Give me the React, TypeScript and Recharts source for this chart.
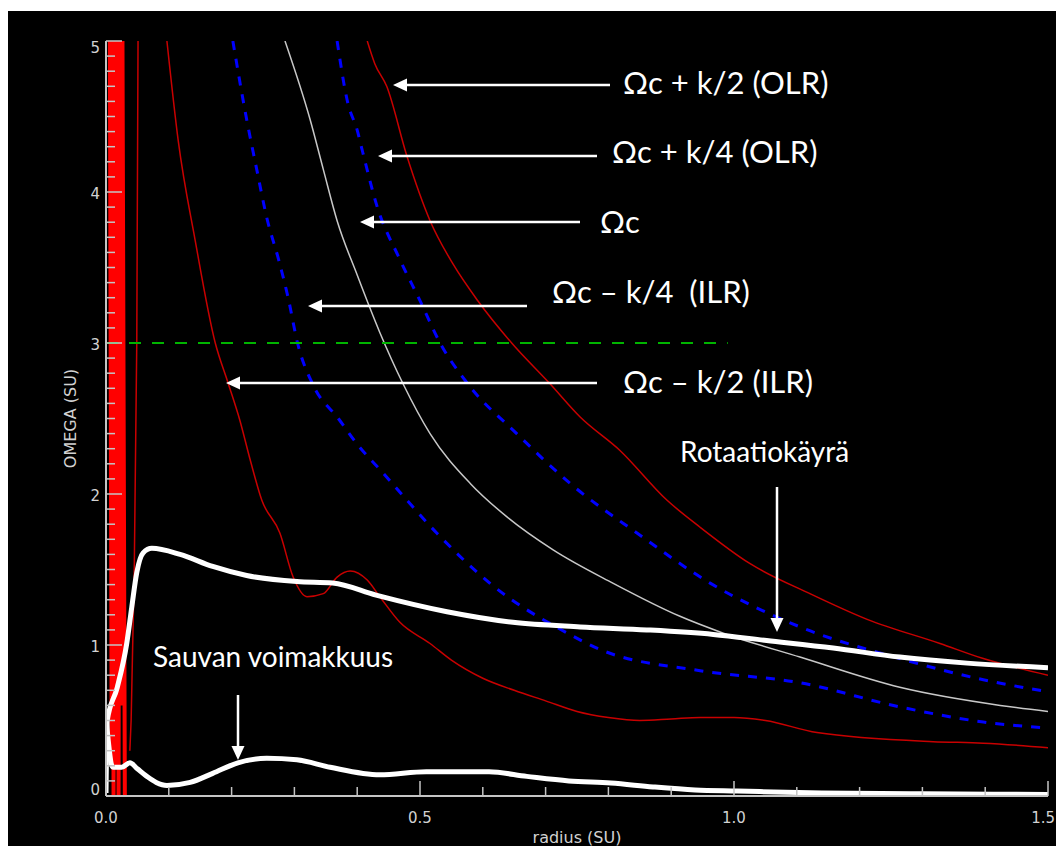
import { LineChart, Line, XAxis, YAxis } from "recharts";

// ---- data (radius SU, omega SU) ----

const OMEGA_PLUS_K2 = [
  { x: 0.416, y: 5.0 }, { x: 0.428, y: 4.85 }, { x: 0.447, y: 4.7 }, { x: 0.479, y: 4.24 },
  { x: 0.516, y: 3.81 }, { x: 0.553, y: 3.52 }, { x: 0.592, y: 3.28 }, { x: 0.646, y: 3.0 },
  { x: 0.707, y: 2.73 }, { x: 0.755, y: 2.51 }, { x: 0.818, y: 2.29 }, { x: 0.893, y: 1.96 },
  { x: 0.946, y: 1.78 }, { x: 1.025, y: 1.54 }, { x: 1.121, y: 1.34 }, { x: 1.212, y: 1.17 },
  { x: 1.328, y: 1.01 }, { x: 1.397, y: 0.91 }, { x: 1.5, y: 0.8 },
];

const OMEGA_PLUS_K4 = [
  { x: 0.368, y: 5.0 }, { x: 0.385, y: 4.59 }, { x: 0.4, y: 4.41 }, { x: 0.409, y: 4.26 },
  { x: 0.432, y: 3.9 }, { x: 0.466, y: 3.57 }, { x: 0.5, y: 3.28 }, { x: 0.532, y: 3.0 },
  { x: 0.576, y: 2.73 }, { x: 0.654, y: 2.4 }, { x: 0.739, y: 2.07 }, { x: 0.846, y: 1.74 },
  { x: 0.962, y: 1.41 }, { x: 1.105, y: 1.12 }, { x: 1.264, y: 0.91 }, { x: 1.397, y: 0.77 },
  { x: 1.5, y: 0.69 },
];

const OMEGA_C = [
  { x: 0.285, y: 5.0 }, { x: 0.325, y: 4.48 }, { x: 0.346, y: 4.15 }, { x: 0.368, y: 3.81 },
  { x: 0.4, y: 3.45 }, { x: 0.436, y: 3.07 }, { x: 0.473, y: 2.73 }, { x: 0.516, y: 2.4 },
  { x: 0.58, y: 2.07 }, { x: 0.638, y: 1.85 }, { x: 0.712, y: 1.63 }, { x: 0.807, y: 1.41 },
  { x: 0.914, y: 1.19 }, { x: 0.982, y: 1.08 }, { x: 1.105, y: 0.92 }, { x: 1.264, y: 0.72 },
  { x: 1.424, y: 0.6 }, { x: 1.5, y: 0.56 },
];

const OMEGA_MINUS_K4 = [
  { x: 0.202, y: 5.0 }, { x: 0.224, y: 4.48 }, { x: 0.24, y: 4.15 }, { x: 0.256, y: 3.83 },
  { x: 0.275, y: 3.55 }, { x: 0.29, y: 3.3 }, { x: 0.305, y: 3.0 }, { x: 0.33, y: 2.72 },
  { x: 0.37, y: 2.5 }, { x: 0.4, y: 2.33 }, { x: 0.441, y: 2.14 }, { x: 0.527, y: 1.74 },
  { x: 0.611, y: 1.41 }, { x: 0.734, y: 1.08 }, { x: 0.787, y: 0.97 }, { x: 0.946, y: 0.83 },
  { x: 1.105, y: 0.75 }, { x: 1.264, y: 0.59 }, { x: 1.397, y: 0.49 }, { x: 1.5, y: 0.45 },
];

const OMEGA_MINUS_K2 = [
  { x: 0.097, y: 5.0 }, { x: 0.115, y: 4.34 }, { x: 0.142, y: 3.68 }, { x: 0.174, y: 3.0 },
  { x: 0.194, y: 2.74 }, { x: 0.213, y: 2.49 }, { x: 0.23, y: 2.22 }, { x: 0.248, y: 1.96 },
  { x: 0.277, y: 1.74 }, { x: 0.298, y: 1.45 }, { x: 0.32, y: 1.32 }, { x: 0.346, y: 1.34 },
  { x: 0.368, y: 1.45 }, { x: 0.389, y: 1.49 }, { x: 0.416, y: 1.43 }, { x: 0.436, y: 1.32 },
  { x: 0.468, y: 1.15 }, { x: 0.516, y: 1.01 }, { x: 0.55, y: 0.9 }, { x: 0.6, y: 0.78 },
  { x: 0.65, y: 0.7 }, { x: 0.7, y: 0.63 }, { x: 0.75, y: 0.56 }, { x: 0.8, y: 0.52 },
  { x: 0.85, y: 0.5 }, { x: 0.9, y: 0.51 }, { x: 0.946, y: 0.52 }, { x: 1.0, y: 0.52 },
  { x: 1.05, y: 0.5 }, { x: 1.132, y: 0.42 }, { x: 1.317, y: 0.36 }, { x: 1.397, y: 0.35 },
  { x: 1.5, y: 0.32 },
];

// resonance curves blow up near the centre
const CORE_SPIKES = [
  { x: 0.006, y: 5.3 }, { x: 0.009, y: 0.3 }, { x: 0.01, y: 5.3 }, { x: 0.012, y: 0.0 },
  { x: 0.014, y: 5.3 }, { x: 0.016, y: 0.2 }, { x: 0.018, y: 5.3 }, { x: 0.02, y: 0.0 },
  { x: 0.022, y: 5.3 }, { x: 0.025, y: 0.6 }, { x: 0.026, y: 5.3 }, { x: 0.03, y: 0.0 },
];

const CORE_EDGE = [
  { x: 0.051, y: 5.0 }, { x: 0.049, y: 3.0 }, { x: 0.045, y: 1.5 }, { x: 0.04, y: 0.5 },
  { x: 0.038, y: 0.3 },
];

const ROTATION = [
  { x: 0.0, y: 0.02 }, { x: 0.002, y: 0.5 }, { x: 0.018, y: 0.72 }, { x: 0.033, y: 1.01 },
  { x: 0.041, y: 1.25 }, { x: 0.049, y: 1.48 }, { x: 0.059, y: 1.61 }, { x: 0.073, y: 1.64 },
  { x: 0.118, y: 1.6 }, { x: 0.17, y: 1.52 }, { x: 0.224, y: 1.46 }, { x: 0.304, y: 1.42 },
  { x: 0.361, y: 1.41 }, { x: 0.43, y: 1.33 }, { x: 0.543, y: 1.22 }, { x: 0.648, y: 1.15 },
  { x: 0.755, y: 1.12 }, { x: 0.861, y: 1.1 }, { x: 0.967, y: 1.07 }, { x: 1.052, y: 1.03 },
  { x: 1.158, y: 0.98 }, { x: 1.264, y: 0.92 }, { x: 1.371, y: 0.88 }, { x: 1.5, y: 0.85 },
];

const BAR_STRENGTH = [
  { x: 0.0, y: 0.52 }, { x: 0.004, y: 0.35 }, { x: 0.008, y: 0.22 }, { x: 0.011, y: 0.19 },
  { x: 0.025, y: 0.19 }, { x: 0.038, y: 0.22 }, { x: 0.05, y: 0.18 }, { x: 0.065, y: 0.13 },
  { x: 0.08, y: 0.09 }, { x: 0.097, y: 0.07 }, { x: 0.134, y: 0.09 }, { x: 0.17, y: 0.15 },
  { x: 0.21, y: 0.22 }, { x: 0.256, y: 0.25 }, { x: 0.304, y: 0.24 }, { x: 0.357, y: 0.19 },
  { x: 0.436, y: 0.14 }, { x: 0.51, y: 0.16 }, { x: 0.61, y: 0.16 }, { x: 0.67, y: 0.13 },
  { x: 0.737, y: 0.1 }, { x: 0.804, y: 0.086 }, { x: 0.871, y: 0.06 }, { x: 0.938, y: 0.04 },
  { x: 1.005, y: 0.033 }, { x: 1.14, y: 0.02 }, { x: 1.3, y: 0.015 }, { x: 1.5, y: 0.01 },
];

const PATTERN_SPEED = [{ x: 0.0, y: 3.0 }, { x: 0.99, y: 3.0 }];

const X_TICKS = [0, 0.1, 0.2, 0.3, 0.4, 0.5, 0.6, 0.7, 0.8, 0.9, 1.0, 1.1, 1.2, 1.3, 1.4, 1.5];
const X_MAJOR = [0, 0.5, 1.0, 1.5];
const X_LABELS = ["0.0", "0.5", "1.0", "1.5"];

const Y_TICKS = [
  0, 0.1, 0.2, 0.3, 0.4, 0.5, 0.6, 0.7, 0.8, 0.9,
  1, 1.1, 1.2, 1.3, 1.4, 1.5, 1.6, 1.7, 1.8, 1.9,
  2, 2.1, 2.2, 2.3, 2.4, 2.5, 2.6, 2.7, 2.8, 2.9,
  3, 3.1, 3.2, 3.3, 3.4, 3.5, 3.6, 3.7, 3.8, 3.9,
  4, 4.1, 4.2, 4.3, 4.4, 4.5, 4.6, 4.7, 4.8, 4.9, 5,
];
const Y_MAJOR = [0, 1, 2, 3, 4, 5];
const Y_LABELS = ["0", "1", "2", "3", "4", "5"];

// ---- styling ----
const FRAME = "#c4c4c4";
const TICK_TEXT = "#d2d2d2";
const TICK_FONT = '"DejaVu Sans", sans-serif';
const NOTE_FONT = 'Lato, "Noto Sans", sans-serif';
const DARK_RED = "#c80000";

const NOTES = [
  { text: "Ωc + k/2 (OLR)", x: 623, y: 94, size: 31, tail: [610, 85], tip: [393, 85] },
  { text: "Ωc + k/4 (OLR)", x: 612, y: 163, size: 31, tail: [597, 156], tip: [378, 156] },
  { text: "Ωc", x: 600, y: 233, size: 31, tail: [580, 222], tip: [360, 222] },
  { text: "Ωc – k/4  (ILR)", x: 552, y: 303, size: 31, tail: [527, 306], tip: [308, 306] },
  { text: "Ωc – k/2 (ILR)", x: 623, y: 393, size: 31, tail: [597, 383], tip: [226, 383] },
  { text: "Rotaatiokäyrä", x: 680, y: 462, size: 28, tail: [777, 487], tip: [777, 632] },
  { text: "Sauvan voimakkuus", x: 153, y: 667, size: 28, tail: [238, 695], tip: [238, 760] },
];

const findMajor = (list: number[], v: number) => list.findIndex((m) => Math.abs(m - v) < 1e-6);

function BottomTick(props: any) {
  const { x, y, payload } = props;
  const i = findMajor(X_MAJOR, payload.value);
  // last label would run off the page edge, so pull it in
  const last = i === X_MAJOR.length - 1;
  return (
    <g>
      <line x1={x} y1={y} x2={x} y2={y - (i >= 0 ? 15 : 9)} stroke={FRAME} strokeWidth={1.5} />
      {i >= 0 && (
        <text
          x={last ? x + 7 : x}
          y={y + 27}
          textAnchor={last ? "end" : "middle"}
          fill={TICK_TEXT}
          fontSize={15}
          fontFamily={TICK_FONT}
        >
          {X_LABELS[i]}
        </text>
      )}
    </g>
  );
}

function TopTick(props: any) {
  const { x, y, payload } = props;
  const major = findMajor(X_MAJOR, payload.value) >= 0;
  return <line x1={x} y1={y} x2={x} y2={y + (major ? 15 : 9)} stroke={FRAME} strokeWidth={1.5} />;
}

function LeftTick(props: any) {
  const { x, y, payload } = props;
  const i = findMajor(Y_MAJOR, payload.value);
  const dy = i === 0 ? -1 : i === Y_MAJOR.length - 1 ? 12 : 7;
  return (
    <g>
      <line x1={x} y1={y} x2={x + (i >= 0 ? 16 : 9)} y2={y} stroke={FRAME} strokeWidth={1.5} />
      {i >= 0 && (
        <text x={x - 6} y={y + dy} textAnchor="end" fill={TICK_TEXT} fontSize={15} fontFamily={TICK_FONT}>
          {Y_LABELS[i]}
        </text>
      )}
    </g>
  );
}

function RightTick(props: any) {
  const { x, y, payload } = props;
  const major = findMajor(Y_MAJOR, payload.value) >= 0;
  return <line x1={x} y1={y} x2={x - (major ? 18 : 10)} y2={y} stroke={FRAME} strokeWidth={1.5} />;
}

const yTitle = (props: any) => {
  const vb = props.viewBox;
  const cx = vb.x + 24;
  const cy = vb.y + vb.height / 2;
  return (
    <text
      x={cx}
      y={cy}
      transform={`rotate(-90 ${cx} ${cy})`}
      textAnchor="middle"
      dominantBaseline="central"
      fill={TICK_TEXT}
      fontSize={16}
      fontFamily={TICK_FONT}
    >
      OMEGA (SU)
    </text>
  );
};

const xTitle = (props: any) => {
  const vb = props.viewBox;
  return (
    <text
      x={vb.x + vb.width / 2}
      y={vb.y + 47}
      textAnchor="middle"
      fill={TICK_TEXT}
      fontSize={16}
      fontFamily={TICK_FONT}
    >
      radius (SU)
    </text>
  );
};

function Arrow({ tail, tip }: { tail: number[]; tip: number[] }) {
  const [x1, y1] = tail;
  const [x2, y2] = tip;
  const a = Math.atan2(y2 - y1, x2 - x1);
  const len = 14;
  const half = 6.5;
  const bx = x2 - len * Math.cos(a);
  const by = y2 - len * Math.sin(a);
  const px = -Math.sin(a) * half;
  const py = Math.cos(a) * half;
  return (
    <g>
      <line x1={x1} y1={y1} x2={bx} y2={by} stroke="#fff" strokeWidth={2.5} />
      <polygon points={`${x2},${y2} ${bx + px},${by + py} ${bx - px},${by - py}`} fill="#fff" />
    </g>
  );
}

const lineProps = {
  dataKey: "y",
  dot: false,
  activeDot: false,
  isAnimationActive: false,
  type: "monotone" as const,
};

export default function App() {
  return (
    <div style={{ position: "absolute", left: 0, top: 0, width: 1056, height: 846, background: "#fff" }}>
      <div style={{ position: "absolute", left: 8, top: 11, width: 1048, height: 835, background: "#000" }} />
      <div style={{ position: "absolute", left: 0, top: 0 }}>
        <LineChart width={1056} height={846} margin={{ top: 41, right: 8, bottom: 0, left: 46 }}>
          <XAxis
            dataKey="x"
            type="number"
            domain={[0, 1.5]}
            allowDataOverflow
            ticks={X_TICKS}
            interval={0}
            tickSize={0}
            tickMargin={0}
            tickLine={false}
            tick={<BottomTick />}
            axisLine={{ stroke: FRAME, strokeWidth: 2 }}
            height={50}
            label={{ content: xTitle }}
          />
          <XAxis
            xAxisId="top"
            orientation="top"
            dataKey="x"
            type="number"
            domain={[0, 1.5]}
            allowDataOverflow
            ticks={X_TICKS}
            interval={0}
            tickSize={0}
            tickMargin={0}
            tickLine={false}
            tick={<TopTick />}
            axisLine={{ stroke: FRAME, strokeWidth: 2 }}
            height={0}
          />
          <YAxis
            type="number"
            domain={[0, 5]}
            allowDataOverflow
            ticks={Y_TICKS}
            interval={0}
            tickSize={0}
            tickMargin={0}
            tickLine={false}
            tick={<LeftTick />}
            axisLine={{ stroke: FRAME, strokeWidth: 2 }}
            width={60}
            label={{ content: yTitle }}
          />
          <YAxis
            yAxisId="right"
            orientation="right"
            type="number"
            domain={[0, 5]}
            allowDataOverflow
            ticks={Y_TICKS}
            interval={0}
            tickSize={0}
            tickMargin={0}
            tickLine={false}
            tick={<RightTick />}
            axisLine={{ stroke: FRAME, strokeWidth: 2 }}
            width={0}
          />

          <Line {...lineProps} data={CORE_SPIKES} type="linear" stroke="#ff0000" strokeWidth={4} />
          <Line {...lineProps} data={CORE_EDGE} type="linear" stroke={DARK_RED} strokeWidth={1.5} />
          <Line {...lineProps} data={OMEGA_MINUS_K2} stroke={DARK_RED} strokeWidth={1.5} />
          <Line {...lineProps} data={OMEGA_PLUS_K2} stroke={DARK_RED} strokeWidth={1.5} />
          <Line {...lineProps} data={OMEGA_MINUS_K4} stroke="#0000ff" strokeWidth={3} strokeDasharray="9 9" />
          <Line {...lineProps} data={OMEGA_PLUS_K4} stroke="#0000ff" strokeWidth={3} strokeDasharray="9 9" />
          <Line {...lineProps} data={OMEGA_C} stroke="#c8c8c8" strokeWidth={1.5} />
          <Line {...lineProps} data={PATTERN_SPEED} type="linear" stroke="#00b400" strokeWidth={2} strokeDasharray="12 11" />
          <Line {...lineProps} data={ROTATION} stroke="#ffffff" strokeWidth={5} />
          <Line {...lineProps} data={BAR_STRENGTH} stroke="#ffffff" strokeWidth={5} />
        </LineChart>
      </div>
      <svg width={1056} height={846} style={{ position: "absolute", left: 0, top: 0, pointerEvents: "none" }}>
        {NOTES.map((n) => (
          <g key={n.text}>
            <Arrow tail={n.tail} tip={n.tip} />
            <text
              x={n.x}
              y={n.y}
              fill="#fff"
              fontSize={n.size}
              fontFamily={NOTE_FONT}
              style={{ whiteSpace: "pre" }}
            >
              {n.text}
            </text>
          </g>
        ))}
      </svg>
    </div>
  );
}
